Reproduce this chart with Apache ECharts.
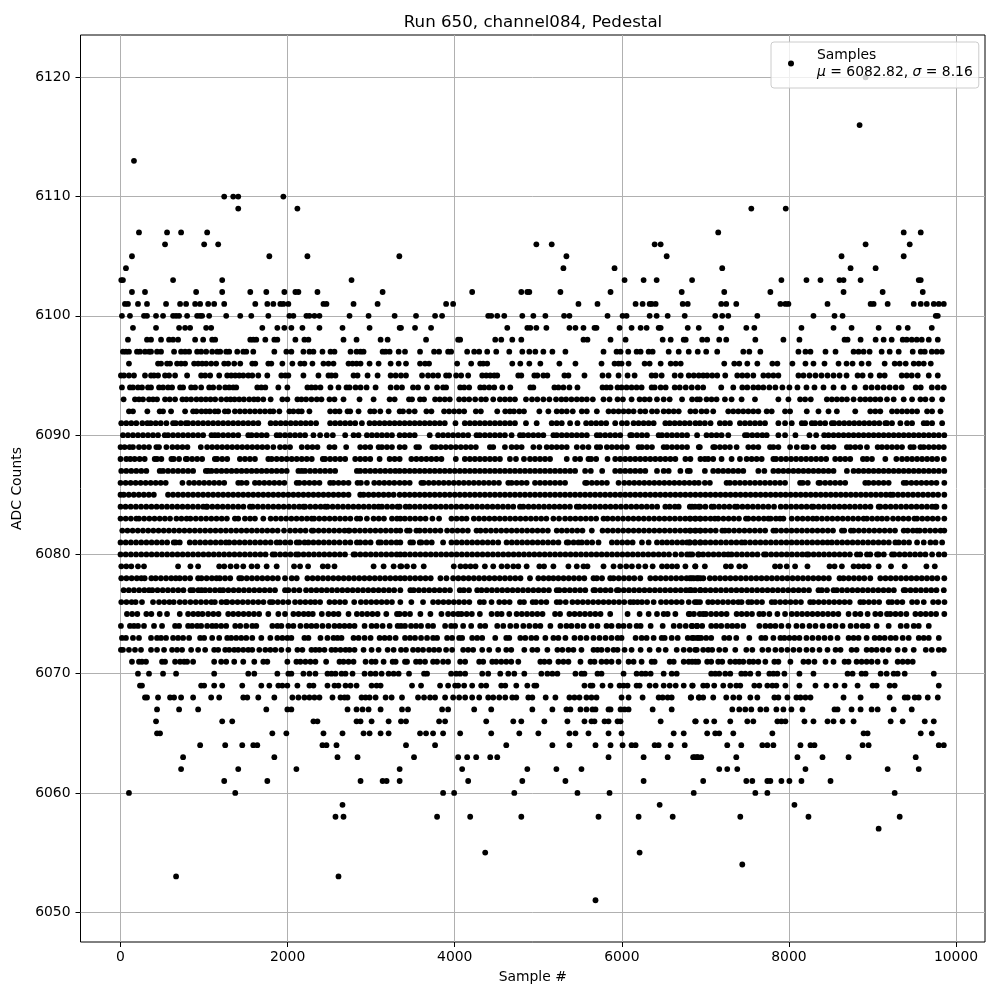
<!DOCTYPE html>
<html><head><meta charset="utf-8">
<style>html,body{margin:0;padding:0;background:#fff}#c{width:1000px;height:1000px}</style>
<script src="https://cdn.jsdelivr.net/npm/echarts@6/dist/echarts.min.js"></script>
</head><body><div id="c"></div>
<script>
const titleText = "Run 650, channel084, Pedestal";
const xTicks = [0,2000,4000,6000,8000,10000];
const yTicks = [6050,6060,6070,6080,6090,6100,6110,6120];
const x6120=[8918];
const x6116=[8846];
const x6113=[161];
const x6110=[1241,1349,1409,1949];
const x6109=[1409,2117,7550,7962];
const x6107=[221,557,725,1037,7154,9374,9578];
const x6106=[533,1001,1169,4977,5161,6393,6465,8918,9446];
const x6105=[137,1781,2237,3337,5337,6537,8630,9374];
const x6104=[65,5301,5913,7202,8738,9038];
const x6103=[9,29,629,1217,2765,6033,6261,6417,6841,7910,8210,8378,8606,8654,8858,9554,9578];
const x6102=[137,293,905,1217,1553,1745,1961,2093,2129,2357,3137,4209,4797,4869,4893,5265,5865,6717,7226,7778,8654,9122,9602];
const x6101=[53,89,209,317,545,713,785,893,953,1049,1121,1241,1613,1757,1829,1913,1949,2009,2429,2465,2789,3077,3897,3981,5481,5709,6165,6249,6333,6357,6405,6729,6789,7190,7250,7370,7898,7958,7994,8462,8978,9014,9182,9494,9578,9650,9734,9794,9854];
const x6100=[17,113,281,317,425,509,629,665,701,797,917,953,977,1061,1265,1433,1565,1769,2021,2069,2225,2261,2321,2381,2741,2969,3281,3537,3765,3849,4401,4437,4509,4593,4809,4941,5085,5309,5373,5829,6009,6057,6333,6417,6549,6753,7118,7202,7274,7622,8294,8546,8642,9758,9782];
const x6099=[149,425,701,773,833,1025,1085,1697,1877,1961,2045,2177,2381,2657,2981,3341,3357,3525,3717,4629,4869,4905,4977,5097,5373,5445,5541,5673,5697,5973,6117,6225,6297,6441,6465,6789,6921,7190,7490,7586,8150,8534,8750,9074,9314,9422,9710];
const x6098=[89,317,365,485,581,629,689,893,989,1097,1133,1553,1589,1625,1733,1841,1877,2093,2201,2249,2669,2825,3113,3197,3657,4041,4065,4485,4557,4689,4797,5541,5589,5865,6045,6489,6585,6741,6765,6962,7022,7166,7250,7598,7934,8126,8666,8702,8858,9038,9134,9230,9362,9410,9470,9530,9590,9674,9782];
const x6097=[29,65,101,197,233,293,341,365,437,485,641,725,773,821,917,965,1025,1097,1157,1193,1265,1301,1397,1469,1505,1589,1841,1985,2045,2189,2261,2309,2417,2513,2561,2753,2825,2873,2909,3137,3173,3221,3329,3405,3585,3753,3813,3921,3957,4149,4233,4293,4389,4497,4653,4809,4893,4965,5061,5169,5325,5781,5937,5985,6077,6177,6225,6321,6369,6561,6681,6801,6909,7010,7142,7454,7526,7658,8114,8198,8258,8438,8558,8774,8834,8894,8966,9110,9206,9314,9482,9578,9626,9710,9770,9830];
const x6096=[101,449,485,557,593,677,725,773,881,929,977,1025,1085,1145,1241,1289,1361,1433,1577,1613,1769,1805,1937,2057,2153,2201,2297,2429,2489,2549,2729,2777,2825,2873,2981,3089,3233,3329,3417,3585,3645,3693,4029,4197,4305,4341,4389,4689,4785,4893,5025,5253,5445,5757,5913,5961,5997,6081,6273,6333,6465,6585,6645,6705,7226,7346,7406,7502,7622,7802,7862,8042,8198,8294,8426,8594,8690,8762,8870,8954,9146,9266,9326,9398,9494,9554,9614,9698];
const x6095=[5,41,101,161,293,365,401,449,533,581,653,797,965,1013,1073,1181,1277,1325,1373,1421,1469,1529,1577,1649,1757,1925,1973,2009,2189,2369,2489,2525,2573,2789,2837,2957,3077,3233,3293,3357,3417,3609,3681,3741,3801,3897,3933,4017,4077,4161,4329,4377,4425,4473,4509,4761,4797,4953,4989,5061,5109,5313,5361,5553,5769,5841,5961,6069,6153,6357,6405,6477,6633,6705,6801,6861,6921,6974,7022,7082,7142,7238,7382,7442,7502,7574,7694,7754,7814,7874,8114,8174,8246,8318,8390,8462,8534,8606,8690,8822,8882,8978,9086,9146,9350,9410,9470,9542,9674,9782];
const x6094=[17,113,149,209,257,329,365,461,509,569,617,713,749,845,893,965,1061,1109,1181,1253,1301,1349,1385,1637,1685,1733,1889,1997,2237,2285,2333,2393,2513,2609,2705,2741,2813,2873,2945,3053,3233,3305,3369,3501,3561,3669,3789,3861,3897,4065,4113,4173,4305,4353,4413,4473,4569,4665,4905,4941,5193,5241,5301,5373,5469,5769,5817,5865,5949,5997,6057,6117,6177,6237,6357,6393,6465,6525,6633,6693,6765,6837,6909,6974,7190,7334,7442,7502,7574,7634,7694,7766,7838,7922,8006,8102,8210,8306,8414,8534,8654,8786,8918,8990,9062,9134,9206,9278,9350,9518,9578,9710,9782,9854];
const x6093=[37,173,221,269,341,389,437,533,589,653,741,789,845,909,965,1021,1077,1133,1205,1269,1317,1365,1421,1477,1541,1597,1645,1709,1797,1937,1997,2117,2165,2221,2285,2349,2405,2501,2561,2669,2861,3029,3221,3281,3453,3489,3585,3633,3765,3821,3881,3941,4053,4113,4173,4245,4317,4373,4461,4541,4601,4661,4721,4853,4925,4989,5061,5133,5213,5277,5333,5397,5461,5521,5581,5653,5781,5853,5949,6013,6117,6213,6273,6333,6421,6501,6573,6721,6841,6901,6934,7014,7074,7134,7234,7314,7434,7594,7874,7994,8134,8194,8262,8454,8514,8574,8634,8694,8774,8854,8914,8974,9034,9094,9174,9254,9374,9474,9574,9634,9714,9834];
const x6092=[101,149,321,469,509,605,773,869,909,969,1021,1069,1129,1169,1249,1289,1369,1429,1489,1549,1609,1669,1729,1789,1829,1901,2021,2069,2129,2169,2261,2509,2569,2621,2717,2749,2849,2989,3037,3109,3209,3341,3381,3453,3521,3661,3721,3873,3933,3993,4053,4113,4253,4313,4509,4605,4661,4709,4773,4829,5013,5121,5221,5281,5341,5413,5521,5581,5701,5841,5901,5961,6021,6081,6141,6221,6281,6361,6421,6501,6561,6621,6681,6821,6881,6954,7014,7094,7274,7334,7394,7454,7514,7574,7634,7734,7794,7954,8014,8214,8354,8474,8574,8794,8974,9034,9094,9234,9294,9354,9414,9474,9534,9654,9714,9814];
const x6091=[9,69,129,189,261,321,361,421,481,549,629,661,721,781,809,869,929,989,1049,1109,1169,1229,1289,1349,1409,1469,1529,1589,1649,1797,1857,1917,1977,2037,2097,2157,2217,2277,2341,2509,2569,2629,2689,2749,2809,2889,2981,3041,3101,3161,3221,3281,3341,3401,3461,3521,3581,3641,3701,3761,3821,3881,4009,4121,4181,4241,4301,4361,4421,4481,4541,4601,4661,4721,4853,4981,5161,5221,5281,5381,5469,5573,5633,5693,5753,5813,5921,6001,6061,6141,6201,6261,6321,6381,6521,6573,6633,6693,6753,6813,6881,6934,6994,7062,7174,7234,7294,7414,7474,7534,7594,7654,7714,7874,7954,8034,8154,8194,8274,8314,8374,8434,8514,8542,8602,8662,8722,8782,8842,8902,8962,9022,9082,9154,9174,9234,9334,9414,9474,9614,9654,9714,9834];
const x6090=[29,89,149,209,269,329,389,449,529,569,629,689,749,809,869,929,989,1089,1129,1169,1229,1289,1349,1409,1529,1569,1629,1689,1749,1869,1909,1969,2029,2089,2149,2209,2309,2389,2469,2541,2689,2789,2849,2949,3009,3069,3129,3189,3249,3341,3401,3461,3521,3701,3801,3861,3921,3981,4041,4101,4161,4261,4301,4361,4421,4481,4541,4601,4681,4781,4821,4881,4941,5001,5061,5181,5221,5281,5341,5401,5461,5521,5581,5701,5741,5801,5861,5921,5981,6101,6121,6181,6241,6301,6441,6481,6541,6601,6661,6721,6781,6901,7014,7074,7134,7194,7274,7474,7502,7562,7622,7682,7734,7874,7954,8078,8246,8326,8422,8474,8534,8594,8654,8714,8774,8834,8894,8954,9014,9074,9134,9194,9254,9314,9374,9434,9494,9554,9614,9674,9734,9794,9860];
const x6089=[0,49,109,149,221,281,341,429,461,549,621,681,741,801,961,1037,1097,1157,1217,1277,1337,1397,1457,1517,1577,1637,1697,1757,1829,1909,1969,2029,2169,2237,2297,2357,2501,2561,2701,2869,2929,2989,3089,3129,3189,3249,3341,3401,3541,3573,3733,3773,3833,3893,3953,4013,4073,4133,4193,4253,4421,4461,4601,4681,4741,4801,4941,5013,5101,5161,5221,5281,5341,5461,5533,5601,5701,5741,5821,5881,5941,6001,6061,6201,6241,6301,6361,6501,6541,6601,6661,6721,6781,6921,6934,7094,7114,7174,7234,7294,7374,7514,7574,7634,7774,7814,7874,8014,8094,8174,8214,8294,8414,8474,8534,8694,8734,8794,8854,8934,9062,9114,9174,9234,9294,9354,9454,9494,9574,9614,9674,9734,9794,9854];
const x6088=[0,69,117,169,229,289,409,437,489,609,637,701,781,797,857,917,977,1129,1157,1217,1277,1429,1489,1549,1609,1769,1809,1869,1929,1989,2049,2109,2169,2229,2289,2421,2449,2509,2569,2629,2689,2809,2869,2929,2989,3101,3221,3281,3341,3481,3541,3601,3661,3721,3781,3841,4013,4121,4181,4241,4301,4361,4421,4481,4541,4661,4733,4829,4901,4961,5021,5081,5141,5341,5441,5501,5601,5633,5693,5829,5921,5981,6041,6101,6161,6221,6281,6341,6401,6461,6521,6581,6641,6761,6821,6941,6994,7034,7094,7194,7314,7414,7494,7554,7614,7674,7814,7846,7906,7966,8026,8086,8146,8206,8266,8326,8386,8446,8554,8614,8674,8734,8886,8934,8994,9154,9286,9354,9414,9474,9534,9594,9654,9714,9774,9854];
const x6087=[9,69,129,189,249,309,469,509,569,629,689,749,809,869,1021,1049,1089,1149,1209,1269,1329,1389,1449,1509,1569,1629,1689,1749,1809,1869,1929,1989,2129,2169,2209,2269,2329,2389,2449,2509,2569,2829,2869,2929,2989,3049,3109,3169,3229,3289,3341,3401,3461,3521,3581,3641,3701,3761,3821,3881,3941,4001,4061,4121,4181,4241,4301,4361,4421,4481,4541,4601,4661,4721,4781,4841,4901,4961,5021,5081,5141,5201,5261,5321,5381,5441,5561,5629,5765,5921,5981,6041,6101,6161,6221,6281,6421,6501,6561,6701,6789,6814,6994,7094,7154,7214,7274,7334,7394,7454,7634,7706,7814,7874,7934,7994,8054,8114,8174,8234,8294,8354,8414,8474,8534,8694,8774,8834,8894,8954,9014,9074,9134,9194,9254,9314,9374,9434,9494,9554,9614,9674,9734,9794,9860];
const x6086=[0,61,121,181,241,301,361,421,481,541,741,821,881,941,1001,1061,1121,1181,1241,1409,1449,1509,1609,1661,1721,1781,1841,1901,1961,2109,2141,2201,2261,2321,2381,2509,2549,2609,2669,2729,2837,2877,2949,3037,3097,3157,3217,3277,3341,3401,3461,3601,3629,3689,3749,3809,3869,3929,3989,4049,4109,4169,4229,4289,4349,4409,4469,4529,4641,4681,4741,4801,4861,4961,5021,5081,5141,5201,5261,5321,5561,5581,5641,5701,5761,5821,5961,6029,6089,6149,6209,6269,6329,6389,6449,6509,6569,6629,6689,6749,6809,6869,6921,6994,7054,7254,7294,7354,7414,7474,7534,7594,7654,7714,7774,7834,7894,7954,8134,8166,8226,8354,8374,8434,8494,8554,8614,8674,8914,8954,9014,9074,9134,9194,9374,9406,9466,9526,9586,9646,9706,9766,9860];
const x6085=[0,39,99,159,219,279,339,399,569,629,689,749,809,869,929,989,1049,1109,1169,1229,1289,1349,1409,1469,1529,1589,1649,1709,1769,1829,1889,1949,2009,2069,2129,2189,2249,2309,2369,2429,2489,2549,2609,2669,2729,2869,2909,2969,3029,3089,3149,3209,3269,3341,3401,3461,3521,3581,3641,3701,3761,3821,3881,3941,4001,4061,4121,4181,4241,4301,4361,4421,4481,4541,4601,4661,4721,4781,4841,4901,4961,5021,5081,5141,5201,5261,5321,5381,5441,5501,5561,5621,5681,5741,5801,5861,5921,5981,6041,6101,6161,6221,6281,6341,6401,6461,6521,6581,6641,6701,6761,6821,6881,6941,7001,7061,7121,7181,7241,7301,7361,7421,7481,7541,7601,7661,7721,7781,7841,7901,7961,8021,8081,8141,8201,8261,8321,8381,8441,8501,8561,8621,8681,8741,8801,8861,8921,8981,9041,9101,9161,9214,9246,9306,9366,9426,9486,9546,9606,9666,9726,9786,9860];
const x6084=[0,60,122,184,246,308,370,432,494,556,618,680,742,804,866,928,990,1029,1037,1099,1161,1223,1285,1347,1409,1471,1549,1581,1643,1705,1767,1829,1891,1953,2015,2077,2139,2189,2209,2271,2333,2395,2449,2477,2539,2601,2663,2725,2787,2849,2911,2973,3035,3089,3129,3191,3253,3315,3341,3413,3461,3523,3585,3647,3709,3771,3833,3895,3957,4019,4081,4143,4205,4267,4329,4391,4453,4515,4577,4639,4701,4781,4821,4883,4945,5007,5069,5131,5193,5255,5317,5379,5461,5493,5555,5617,5679,5741,5803,5865,5927,5989,6051,6113,6175,6237,6299,6361,6423,6521,6573,6635,6681,6841,6921,6814,6876,6938,7000,7074,7102,7164,7226,7288,7354,7382,7444,7506,7568,7630,7692,7754,7822,7902,7964,8026,8088,8150,8212,8274,8294,8356,8418,8480,8542,8604,8666,8728,8790,8852,8914,8976,9074,9094,9156,9218,9280,9342,9404,9466,9528,9590,9652,9714,9754,9766,9862];
const x6083=[0,62,124,189,221,283,345,407,469,531,593,669,729,791,837,901,963,1025,1087,1149,1211,1273,1369,1409,1489,1551,1609,1709,1797,1859,1921,1983,2045,2107,2169,2231,2289,2317,2379,2441,2503,2565,2627,2689,2751,2829,2869,2949,3029,3091,3153,3249,3309,3349,3403,3465,3527,3589,3651,3733,3813,3961,4023,4085,4141,4229,4291,4353,4415,4477,4539,4601,4663,4725,4787,4849,4911,4973,5035,5097,5181,5249,5321,5383,5445,5507,5569,5631,5693,5781,5829,5891,5953,6015,6077,6139,6201,6263,6325,6387,6449,6511,6573,6635,6697,6759,6821,6883,6941,6814,6876,6938,7000,7062,7114,7154,7216,7278,7340,7402,7486,7514,7576,7638,7700,7754,7782,7844,7894,7934,8034,8102,8164,8226,8286,8334,8396,8458,8520,8582,8644,8706,8768,8830,8894,8934,8996,9058,9114,9174,9246,9308,9370,9432,9502,9534,9596,9658,9720,9782,9860];
const x6082=[21,83,145,207,269,331,393,455,517,579,641,703,765,827,889,951,1013,1075,1137,1199,1261,1323,1385,1447,1509,1571,1633,1695,1757,1819,1881,1957,2029,2091,2153,2215,2289,2309,2371,2433,2495,2557,2619,2681,2729,2741,2803,2865,2927,2989,3051,3113,3175,3237,3299,3349,3429,3461,3541,3581,3643,3705,3767,3829,3909,3971,4033,4095,4157,4261,4309,4371,4433,4495,4557,4619,4681,4743,4805,4867,4929,4991,5053,5115,5221,5281,5343,5405,5467,5529,5641,5769,5831,5893,5955,6017,6079,6141,6203,6265,6327,6389,6451,6513,6575,6637,6699,6761,6823,6885,6941,6814,6876,6938,7000,7062,7124,7202,7234,7282,7344,7406,7468,7530,7592,7654,7716,7814,7846,7908,7970,8032,8094,8156,8218,8280,8342,8404,8466,8528,8634,8662,8742,8774,8836,8898,8960,9022,9084,9146,9208,9270,9374,9422,9484,9534,9566,9628,9690,9752,9814,9860];
const x6081=[0,62,124,186,248,310,372,434,496,558,637,661,709,829,891,953,1015,1077,1139,1201,1261,1301,1363,1425,1487,1549,1611,1673,1735,1797,1869,1909,1971,2033,2109,2141,2203,2249,2309,2371,2433,2495,2557,2621,2689,2751,2829,2869,2931,2993,3089,3117,3179,3241,3303,3349,3469,3501,3581,3601,3663,3725,3861,3961,4023,4085,4147,4209,4271,4333,4395,4457,4521,4621,4683,4745,4807,4869,4931,4993,5055,5117,5179,5241,5341,5361,5423,5481,5521,5583,5645,5721,5881,5943,6005,6067,6129,6241,6321,6421,6483,6541,6601,6663,6725,6781,6813,6875,6941,6814,6876,6938,7000,7062,7124,7186,7248,7310,7372,7434,7474,7536,7598,7660,7722,7784,7846,7908,7970,8032,8094,8156,8218,8280,8342,8404,8462,8514,8576,8638,8700,8762,8824,8886,8948,9010,9072,9134,9196,9274,9314,9376,9438,9534,9614,9694,9756,9834];
const x6080=[0,62,124,186,248,310,372,434,496,558,620,682,744,806,868,930,992,1054,1116,1178,1240,1302,1364,1426,1488,1550,1612,1674,1736,1821,1849,1911,1973,2035,2101,2129,2191,2253,2315,2377,2439,2501,2563,2625,2687,2789,2809,2871,2933,2995,3057,3119,3181,3243,3305,3349,3403,3465,3527,3589,3651,3713,3775,3837,3899,3961,4023,4085,4147,4209,4271,4333,4395,4457,4519,4581,4643,4705,4767,4829,4891,4953,5015,5077,5139,5201,5263,5325,5387,5449,5511,5573,5635,5697,5759,5821,5883,5945,6007,6069,6131,6193,6255,6317,6379,6441,6503,6565,6641,6713,6781,6843,6921,6814,6914,6974,7036,7098,7160,7222,7274,7314,7376,7438,7500,7562,7624,7702,7726,7788,7850,7912,7974,8036,8098,8160,8214,8234,8296,8358,8420,8482,8544,8606,8668,8730,8814,8854,8934,8974,9054,9074,9136,9234,9262,9324,9386,9448,9510,9572,9634,9714,9794,9860];
const x6079=[9,69,129,209,281,689,837,929,1181,1241,1317,1389,1469,1569,1637,1749,1869,2077,2149,2245,2421,2481,2561,3029,3149,3269,3349,3361,3429,3509,3629,3989,4069,4129,4189,4249,4361,4461,4561,4629,4701,4761,4861,5013,5069,5181,5361,5461,5541,5589,5781,5901,5981,6053,6121,6201,6281,6369,6481,6541,6601,6661,6761,6881,6878,6994,7246,7306,7406,7474,7834,7894,7974,8074,8222,8486,8546,8634,8774,8834,8894,8954,9074,9222,9386,9646,9746];
const x6078=[9,71,133,195,249,289,369,421,483,545,607,661,709,771,833,929,969,1031,1093,1149,1189,1251,1313,1421,1449,1511,1573,1635,1697,1759,1821,1883,1969,2049,2109,2237,2299,2361,2423,2485,2547,2609,2671,2733,2795,2857,2919,2981,3043,3105,3167,3229,3291,3349,3403,3465,3527,3589,3651,3713,3829,3901,3981,4043,4105,4167,4229,4291,4353,4415,4477,4539,4601,4663,4725,4787,4901,5001,5063,5125,5181,5241,5303,5365,5427,5489,5551,5661,5701,5763,5861,5901,5963,6025,6087,6149,6221,6341,6403,6465,6527,6589,6651,6713,6775,6837,6899,6941,6814,6862,6914,6976,7054,7114,7176,7238,7300,7362,7424,7486,7548,7610,7672,7734,7796,7858,7920,7982,8044,8106,8168,8230,8292,8354,8416,8478,8606,8654,8716,8778,8840,8902,8974,9094,9156,9218,9280,9342,9404,9466,9528,9590,9652,9714,9776,9860];
const x6077=[37,99,161,223,285,341,381,443,505,567,629,691,753,837,869,931,969,1013,1069,1131,1189,1229,1291,1353,1415,1477,1539,1601,1663,1725,1787,1849,1969,2009,2077,2141,2221,2283,2345,2407,2469,2531,2593,2655,2717,2779,2841,2903,2965,3027,3089,3151,3213,3275,3349,3469,3509,3571,3633,3695,3757,3819,3881,3943,4061,4109,4171,4269,4321,4383,4445,4507,4569,4631,4693,4755,4817,4879,4941,5003,5065,5127,5221,5253,5315,5377,5439,5501,5563,5661,5681,5743,5805,5867,5941,5961,6023,6085,6147,6209,6271,6333,6395,6457,6519,6581,6643,6705,6767,6829,6941,6814,6876,6938,7000,7062,7124,7186,7248,7310,7372,7434,7496,7558,7620,7682,7744,7806,7868,7930,7992,8054,8116,8178,8240,8354,8394,8456,8534,8574,8636,8698,8760,8822,8884,8946,9008,9070,9132,9194,9256,9374,9394,9456,9518,9580,9642,9704,9766,9854];
const x6076=[9,71,133,181,257,389,461,523,585,637,709,771,837,901,963,1025,1087,1129,1209,1261,1277,1339,1401,1463,1525,1587,1649,1711,1789,1821,1883,1945,2009,2089,2151,2213,2275,2329,2389,2501,2563,2625,2687,2797,2877,2939,3001,3063,3125,3187,3249,3349,3481,3621,3741,3803,3865,3927,3989,4051,4113,4175,4301,4349,4441,4533,4595,4657,4781,4829,4933,4973,5035,5097,5221,5261,5329,5409,5471,5533,5595,5657,5719,5781,5843,5905,5967,6029,6101,6141,6189,6241,6303,6381,6469,6531,6593,6655,6717,6801,6901,6874,6936,7034,7086,7148,7210,7272,7334,7394,7434,7514,7554,7616,7678,7794,7834,7896,7958,8020,8082,8144,8254,8294,8356,8418,8480,8542,8604,8666,8728,8854,8894,8956,9018,9080,9194,9234,9296,9358,9474,9534,9614,9726,9788,9862];
const x6075=[77,139,201,309,369,469,557,709,809,871,929,981,1049,1111,1173,1289,1349,1411,1473,1535,1597,1659,1769,1889,1969,2069,2131,2193,2249,2301,2409,2489,2551,2609,2729,2829,2891,2953,3015,3077,3181,3309,3341,3403,3465,3589,3709,3841,3921,3983,4041,4081,4143,4205,4301,4441,4509,4561,4653,4741,4803,4865,4927,4989,5051,5201,5261,5373,5435,5497,5559,5621,5683,5745,5861,6069,6213,6321,6421,6501,6549,6641,6801,6863,6933,6814,6974,7006,7068,7130,7192,7254,7374,7434,7496,7558,7646,7694,7766,7862,7954,8034,8096,8158,8220,8282,8344,8406,8468,8530,8592,8714,8794,8856,8942,9034,9096,9174,9214,9276,9338,9406,9514,9576,9638,9700,9762,9860];
const x6074=[5,113,161,209,281,401,497,653,701,809,857,917,965,1037,1097,1145,1205,1265,1373,1433,1505,1577,1625,1817,1877,1925,2009,2069,2153,2225,2285,2345,2417,2489,2561,2621,2681,2741,2801,2921,3005,3065,3137,3221,3317,3357,3405,3477,3537,3597,3681,3741,3885,3957,4005,4101,4197,4305,4365,4509,4581,4665,4737,4821,4893,4965,5025,5145,5265,5337,5397,5469,5541,5637,5709,5817,5877,5961,6021,6093,6177,6225,6345,6489,6621,6693,6765,6837,6897,6842,6902,6962,7070,7130,7190,7262,7322,7382,7454,7646,7718,7778,7838,7910,7994,8090,8162,8246,8318,8402,8486,8558,8642,8738,8810,8882,8942,9050,9194,9338,9410,9494,9554,9674];
const x6073=[17,65,149,221,365,437,485,545,629,689,749,821,953,1001,1097,1181,1277,1325,1385,1445,1505,1577,1685,1793,1877,1937,1997,2045,2201,2249,2393,2477,2549,2597,2645,2789,2849,2921,2993,3101,3161,3221,3293,3405,3465,3525,3597,3669,3741,3789,3909,3969,4053,4089,4209,4269,4329,4485,4617,4653,4785,4845,4917,4977,5085,5181,5241,5325,5433,5505,5577,5661,5733,5805,5877,5949,5997,6165,6237,6297,6381,6477,6513,6597,6669,6789,6861,6921,6842,6902,6950,7010,7070,7226,7286,7370,7526,7670,7718,7814,7898,7946,8006,8066,8126,8210,8282,8354,8426,8498,8582,8714,8774,8834,8930,9026,9086,9146,9218,9278,9362,9434,9554,9614,9674,9794];
const x6072=[5,29,101,173,245,365,437,521,617,677,737,845,929,1013,1121,1169,1253,1301,1361,1409,1469,1529,1577,1661,1733,1793,1853,1925,2009,2117,2177,2285,2333,2381,2441,2525,2573,2633,2693,2741,2801,2909,3005,3089,3197,3269,3357,3417,3501,3561,3621,3693,3753,3813,3897,3969,4101,4161,4221,4329,4413,4521,4617,4677,4833,4929,4989,5109,5229,5289,5361,5421,5517,5661,5709,5757,5829,5901,5949,6033,6117,6225,6333,6441,6525,6657,6741,6813,6897,6878,6974,7034,7082,7166,7238,7358,7490,7562,7682,7754,7838,7910,7982,8054,8126,8210,8282,8366,8462,8558,8618,8750,8810,8930,8990,9050,9122,9194,9302,9386,9494,9638,9710,9794,9854];
const x6071=[137,221,257,305,497,533,653,713,761,797,869,1121,1205,1265,1361,1469,1601,1709,1757,1997,2105,2153,2213,2273,2333,2461,2621,2669,2729,2789,2933,3005,3053,3149,3257,3293,3405,3429,3537,3585,3645,3741,3789,3861,3921,4065,4125,4293,4341,4449,4497,4557,4617,4677,4761,5025,5073,5133,5241,5301,5361,5505,5625,5673,5757,5817,5877,5961,6081,6141,6237,6357,6393,6573,6621,6741,6801,6881,6842,6914,7022,7070,7154,7202,7298,7358,7406,7454,7526,7574,7634,7718,7826,7874,8018,8174,8234,8306,8438,8534,8666,8714,8810,8870,8930,8990,9062,9158,9302,9362,9422,9482];
const x6070=[209,341,509,665,1121,1529,1601,1877,2009,2045,2189,2261,2333,2477,2525,2573,2645,2693,2777,2921,2993,3053,3125,3209,3269,3329,3453,3633,3669,3957,4017,4065,4125,4329,4401,4545,4641,4713,4833,5037,5109,5169,5229,5445,5517,5553,5709,5757,6021,6177,6237,6285,6345,6501,6597,6657,7070,7118,7166,7238,7298,7430,7478,7538,7634,7766,7814,7862,7946,8126,8294,8702,8762,8870,8918,9098,9170,9254,9302,9386,9734];
const x6069=[233,257,965,1001,1121,1217,1457,1685,1781,1889,1937,1997,2117,2261,2309,2477,2561,2609,2693,2753,2825,3005,3065,3113,3489,3597,3825,3921,4005,4041,4113,4209,4317,4377,4557,4605,4737,4869,4953,4977,5553,5625,5649,5769,5865,5973,6021,6069,6177,6213,6333,6405,6501,6573,6645,6741,6849,6842,6974,7022,7106,7214,7298,7370,7418,7586,7646,7742,7802,7850,7958,8126,8318,8450,8558,8666,8822,9002,9050,9206,9266,9794];
const x6068=[293,317,449,593,641,725,869,1085,1181,1469,1517,1649,1841,2057,2129,2201,2261,2321,2381,2537,2633,2681,2717,2885,2933,2981,3053,3173,3245,3369,3561,3633,3705,3765,3885,3981,4053,4125,4209,4293,4401,4461,4533,4605,4689,4737,4881,4929,5089,5205,5373,5433,5493,5577,5637,5697,5997,6081,6249,6441,6489,6549,6597,6825,6921,6830,6926,6974,7094,7250,7334,7406,7538,7622,7826,7874,7982,8090,8138,8198,8258,8654,8858,9206,9386,9422,9506,9554,9662,9782];
const x6067=[437,701,929,1745,1997,2045,2717,2825,2897,2969,3113,3369,3441,3849,3921,4233,4437,4929,5169,5337,5385,5505,5577,5649,5685,5841,5865,5985,6033,6081,6369,6597,7322,7406,7478,7550,7658,7730,7850,7934,8030,8162,8546,8582,8750,8858,8990,9062,9254,9470];
const x6066=[425,1217,1337,2309,2357,2825,2873,3005,3209,3357,3417,3813,3885,4377,4701,4797,5073,5349,5553,5637,5673,5793,5841,5949,5985,6465,6885,6878,7010,7106,7298,7502,7574,7862,7910,7958,8186,8294,8462,8534,8642,8774,9218,9362,9626,9734];
const x6065=[437,473,1817,1985,2429,2657,2909,2981,3113,3209,3585,3657,3741,3861,4065,4437,4773,5001,5373,5445,5601,5841,5997,6621,6741,7022,7118,7166,7334,7802,8894,8942,9578,9710];
const x6064=[953,1253,1457,1589,1637,2417,2465,2585,3417,3765,4617,5169,5373,5685,5865,6009,6117,6165,6393,6441,6585,6753,7262,7430,7682,7742,7814,8138,8258,8306,8882,8954,9794,9854];
const x6063=[749,1841,2597,2837,3513,4041,4149,4257,4425,4509,5841,6261,6549,6873,6909,6854,6902,6950,7370,8102,8402,8714,9518];
const x6062=[725,1409,2105,3341,4089,4869,5217,5517,7166,7262,7382,8198,9182,9554];
const x6061=[1241,1757,2873,3137,3185,3341,4161,4809,5325,6261,6974,7490,7562,7742,7778,7910,8006,8150,8498];
const x6060=[101,1373,3861,3993,4713,5469,5853,6861,7598,7742,9266];
const x6059=[2657,6453,8066];
const x6058=[2573,2669,3789,4185,4797,5721,6201,6609,7418,8234,9326];
const x6057=[9074];
const x6055=[4365,6213];
const x6054=[7442];
const x6053=[665,2609];
const x6051=[5685];
const levelValues=[6120,6116,6113,6110,6109,6107,6106,6105,6104,6103,6102,6101,6100,6099,6098,6097,6096,6095,6094,6093,6092,6091,6090,6089,6088,6087,6086,6085,6084,6083,6082,6081,6080,6079,6078,6077,6076,6075,6074,6073,6072,6071,6070,6069,6068,6067,6066,6065,6064,6063,6062,6061,6060,6059,6058,6057,6055,6054,6053,6051];
const levelSamples=[x6120,x6116,x6113,x6110,x6109,x6107,x6106,x6105,x6104,x6103,x6102,x6101,x6100,x6099,x6098,x6097,x6096,x6095,x6094,x6093,x6092,x6091,x6090,x6089,x6088,x6087,x6086,x6085,x6084,x6083,x6082,x6081,x6080,x6079,x6078,x6077,x6076,x6075,x6074,x6073,x6072,x6071,x6070,x6069,x6068,x6067,x6066,x6065,x6064,x6063,x6062,x6061,x6060,x6059,x6058,x6057,x6055,x6054,x6053,x6051];
const points=[];
levelValues.forEach((y,i)=>levelSamples[i].forEach(x=>points.push([x,y])));
const font='"DejaVu Sans"';
const axisCommon={
  axisLine:{show:false,onZero:false},
  axisTick:{show:true,length:5,lineStyle:{color:'#000',width:1}},
  splitLine:{show:true,lineStyle:{color:'#b0b0b0',width:1}},
  nameLocation:'middle',
  nameTextStyle:{fontFamily:font,fontSize:13.9,color:'#000'}
};
const plainLabel=v=>String(v);
const chart=echarts.init(document.getElementById('c'),null,{renderer:'canvas'});
chart.setOption({
  animation:false,
  backgroundColor:'#fff',
  title:{text:titleText,left:528,top:9,textAlign:'center',textStyle:{fontFamily:font,fontSize:16.67,fontWeight:'normal',color:'#000'}},
  grid:{left:80.5,top:35,width:904.5,height:907,show:true,borderColor:'#000',borderWidth:1,backgroundColor:'transparent'},
  legend:{
    show:true,left:771,top:42,orient:'vertical',icon:'circle',itemWidth:42,itemHeight:6,
    padding:[6,6,9,17],backgroundColor:'rgba(255,255,255,0.8)',borderColor:'#ccc',borderWidth:1,borderRadius:3,
    selectedMode:false,
    data:['Samples'],
    formatter:()=>'{n|Samples}\n{n|}{i|μ}{n| = 6082.82, }{i|σ}{n| = 8.16}',
    textStyle:{fontFamily:font,fontSize:13.9,color:'#000',
      rich:{n:{fontFamily:font,fontSize:13.9,color:'#000',lineHeight:17},i:{fontFamily:font,fontStyle:'italic',fontSize:13.9,color:'#000',lineHeight:17}}}
  },
  xAxis:Object.assign({},axisCommon,{type:'value',min:-479,max:10347,name:'Sample #',nameGap:28,
    axisTick:Object.assign({},axisCommon.axisTick,{customValues:xTicks}),
    axisLabel:{customValues:xTicks,formatter:plainLabel,fontFamily:font,fontSize:13.9,color:'#000',margin:8}}),
  yAxis:Object.assign({},axisCommon,{type:'value',min:6047.5,max:6123.55,name:'ADC Counts',nameGap:54,
    axisTick:Object.assign({},axisCommon.axisTick,{customValues:yTicks}),
    axisLabel:{customValues:yTicks,formatter:plainLabel,fontFamily:font,fontSize:13.9,color:'#000',margin:10}}),
  series:[{name:'Samples',type:'scatter',data:points,symbol:'circle',symbolSize:5.8,itemStyle:{color:'#000',opacity:1},silent:true,z:3}]
});
</script></body></html>
